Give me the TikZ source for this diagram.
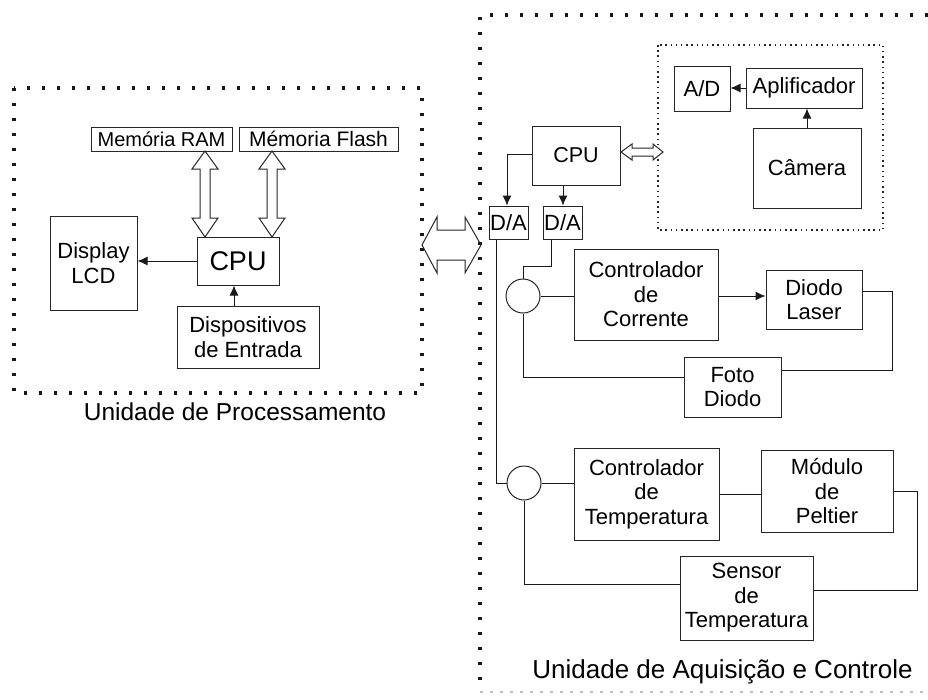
\documentclass[tikz,border=0pt]{standalone}
\usepackage{fontspec}
\setmainfont{Liberation Sans}
\usetikzlibrary{arrows.meta}
\newcommand{\fsz}[1]{\fontsize{#1}{24.5}\selectfont}
\begin{document}
\begin{tikzpicture}[x=1pt,y=-1pt,
  box/.style={draw=black!85, line width=1pt, inner sep=0pt, align=center, font=\fsz{22}},
  wire/.style={line width=1pt, black!90},
  arr/.style={wire, -{Latex[length=10pt,width=9pt]}},
  bigdots/.style={line width=3.4pt, dash pattern=on 3.4pt off 11.6pt, black!90},
  smalldots/.style={line width=1.5pt, dash pattern=on 1.5pt off 3.7pt, black!85},
  hollow/.style={draw=black!85, line width=1pt, fill=white, line join=miter},
  sumnode/.style={draw=black!85, line width=1pt, circle, minimum size=34pt, inner sep=0pt},
  caption/.style={font=\fsz{24.5}, inner sep=0pt}
]
\useasboundingbox (0,0) rectangle (928,699);
% ---------- Processing unit ----------
\draw[bigdots] (14,88) rectangle (422,393);
\node[box, font=\fsz{20}, minimum width=141pt, minimum height=24pt] (ram) at (161.5,139) {Memória RAM};
\node[box, font=\fsz{21}, minimum width=159pt, minimum height=24pt] (flash) at (318.5,139) {Mémoria Flash};
\node[box, font=\fsz{27}, minimum width=82pt, minimum height=48pt] (cpuL) at (238,261) {CPU};
\node[box, minimum width=87pt, minimum height=94pt] (lcd) at (93.5,263) {Display\\LCD};
\node[box, minimum width=142pt, minimum height=62pt] (disp) at (248,337) {Dispositivos\\de Entrada};
\draw[arr] (cpuL.west) -- (lcd.east |- cpuL.west);
\draw[arr] (disp.north -| 234,0) -- (cpuL.south -| 234,0);
% hollow double arrows RAM/Flash <-> CPU
\draw[hollow] (205,151) -- (218,169) -- (210,169) -- (210,218) -- (218,218) -- (205,237)
  -- (192,218) -- (200,218) -- (200,169) -- (192,169) -- cycle;
\draw[hollow] (272,151) -- (285,169) -- (277,169) -- (277,218) -- (285,218) -- (272,237)
  -- (259,218) -- (267,218) -- (267,169) -- (259,169) -- cycle;
\node[caption] (capL) at (235,412) {Unidade de Processamento};
% big hollow double arrow between units
\draw[hollow] (422,245) -- (437,217) -- (437,230) -- (465,230) -- (465,217) -- (481,245)
  -- (465,273) -- (465,260) -- (437,260) -- (437,273) -- cycle;
% ---------- Acquisition unit ----------
\draw[bigdots] (928,15) -- (480,15) -- (480,691);
\draw[line width=1.5pt, dash pattern=on 3pt off 7pt, black!25] (480,692) -- (928,692);
\draw[smalldots] (658,45) rectangle (883,230);
\node[box, minimum width=56pt, minimum height=45pt] (ad) at (702,88.5) {A/D};
\node[box, minimum width=116pt, minimum height=40pt] (apl) at (804,88) {Aplificador};
\node[box, minimum width=108pt, minimum height=80pt] (cam) at (807,168) {Câmera};
\draw[arr] (apl.west) -- (ad.east |- apl.west);
\draw[arr] (cam.north) -- (apl.south -| cam.north);
\node[box, font=\fsz{21.5}, minimum width=88pt, minimum height=59pt] (cpuR) at (576,155.5) {CPU};
\draw[hollow] (621,152) -- (632,144) -- (632,148) -- (653,148) -- (653,144) -- (663,152)
  -- (653,160) -- (653,156) -- (632,156) -- (632,160) -- cycle;
\node[box, minimum width=39pt, minimum height=33pt] (da1) at (508.5,222.5) {D/A};
\node[box, minimum width=39pt, minimum height=33pt] (da2) at (562.5,222.5) {D/A};
\coordinate (k1) at (507,154);
\draw[arr] (cpuR.west |- k1) -- (k1) -- (k1 |- da1.north);
\draw[arr] (cpuR.south -| 563,0) -- (da2.north -| 563,0);
% current loop
\node[sumnode] (c1) at (523,296) {};
\node[box, minimum width=144pt, minimum height=91pt] (cc) at (646,294.5) {Controlador\\de\\Corrente};
\node[box, minimum width=96pt, minimum height=59pt] (dl) at (814,299.5) {Diodo\\Laser};
\node[box, minimum width=97pt, minimum height=60pt] (fd) at (732.5,387) {Foto\\Diodo};
\coordinate (k2) at (551,266);
\draw[wire] (da2.south -| k2) -- (k2) -- (k2 -| c1.north) -- (c1.north);
\draw[wire] (c1.east) -- (cc.west |- c1.east);
\draw[arr] (cc.east |- 0,296) -- (dl.west |- 0,296);
\coordinate (k3) at (892,291);
\draw[wire] (dl.east |- k3) -- (k3) -- (k3 |- 0,370) -- (fd.east |- 0,370);
\draw[wire] (fd.west |- 0,377) -- (c1.south |- 0,377) -- (c1.south);
% temperature loop
\node[sumnode] (c2) at (524,483) {};
\node[box, minimum width=145pt, minimum height=92pt] (ct) at (646.5,494) {Controlador\\de\\Temperatura};
\node[box, minimum width=132pt, minimum height=82pt] (mp) at (827,491) {Módulo\\de\\Peltier};
\node[box, minimum width=133pt, minimum height=84pt] (st) at (746.5,598) {Sensor\\de\\Temperatura};
\coordinate (k4) at (496,483);
\draw[wire] (da1.south -| k4) -- (k4) -- (c2.west);
\draw[wire] (c2.east) -- (ct.west |- c2.east);
\draw[wire] (ct.east |- 0,494) -- (mp.west |- 0,494);
\coordinate (k5) at (917,491);
\draw[wire] (mp.east |- k5) -- (k5) -- (k5 |- 0,590) -- (st.east |- 0,590);
\draw[wire] (st.west |- 0,584) -- (c2.south |- 0,584) -- (c2.south);
\node[caption, font=\fsz{26}] (capR) at (722.5,672) {Unidade de Aquisição e Controle};
\end{tikzpicture}
\end{document}
